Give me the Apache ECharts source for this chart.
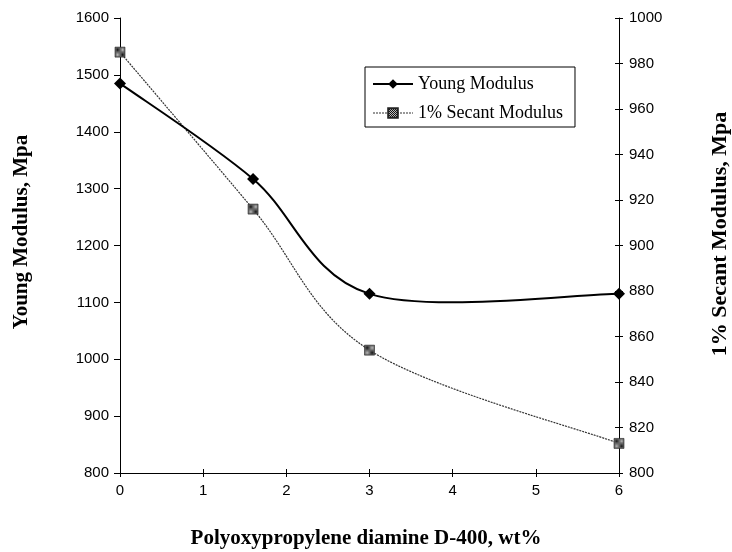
<!DOCTYPE html>
<html>
<head>
<meta charset="utf-8">
<script src="https://cdn.jsdelivr.net/npm/echarts@6/dist/echarts.min.js"></script>
<style>
  html, body { margin: 0; padding: 0; background: #fff; }
  #chart { width: 732px; height: 552px; }
</style>
</head>
<body>
<div id="chart"></div>
<script>
// D-400 content, wt%
const loadings = [0, 1.6, 3, 6];
// Young modulus, MPa (left axis)
const youngModulus = [1485, 1317, 1115, 1115];
// 1% secant modulus, MPa (right axis)
const secantModulus = [985, 916, 854, 813];

const seriesNames = ['Young Modulus', '1% Secant Modulus'];
const axisTitles = {
  x: 'Polyoxypropylene diamine D-400, wt%',
  left: 'Young Modulus, Mpa',
  right: '1% Secant Modulus, Mpa'
};

// checkered fill for the secant markers
const checker = document.createElement('canvas');
checker.width = 2; checker.height = 2;
const cctx = checker.getContext('2d');
cctx.fillStyle = '#bbbbbb'; cctx.fillRect(0, 0, 2, 2);
cctx.fillStyle = '#111111'; cctx.fillRect(0, 0, 1, 1); cctx.fillRect(1, 1, 1, 1);

const pairs = (xs, ys) => xs.map((x, i) => [x, ys[i]]);
const youngPts = pairs(loadings, youngModulus);
const secantPts = pairs(loadings, secantModulus);

// Smoothed segment i -> i+1 as a cubic Bezier (tangents from neighbouring points)
function smoothSegment(points, stroke, width, dash) {
  return function (params, api) {
    const i = params.dataIndex;
    const n = points.length;
    if (i >= n - 1) return null;
    const p = points.map(pt => api.coord(pt));
    const p0 = p[Math.max(i - 1, 0)], p1 = p[i], p2 = p[i + 1], p3 = p[Math.min(i + 2, n - 1)];
    return {
      type: 'bezierCurve',
      shape: {
        x1: p1[0], y1: p1[1], x2: p2[0], y2: p2[1],
        cpx1: p1[0] + (p2[0] - p0[0]) / 6, cpy1: p1[1] + (p2[1] - p0[1]) / 6,
        cpx2: p2[0] - (p3[0] - p1[0]) / 6, cpy2: p2[1] - (p3[1] - p1[1]) / 6
      },
      style: { stroke: stroke, lineWidth: width, lineDash: dash, fill: null }
    };
  };
}

const tickFont = { fontFamily: 'Liberation Sans, Arial, sans-serif', fontSize: 15, color: '#000' };
const titleStyle = {
  fontFamily: 'Liberation Serif, Times New Roman, serif', fontSize: 21, fontWeight: 'bold',
  fill: '#000', align: 'center', verticalAlign: 'middle'
};
const plain = v => String(v);
const gridBox = { left: 120, right: 113, top: 18, bottom: 79, containLabel: false, outerBoundsMode: 'none' };

const chart = echarts.init(document.getElementById('chart'), null, { renderer: 'canvas' });
chart.setOption({
  backgroundColor: '#fff',
  animation: false,
  grid: [Object.assign({}, gridBox), Object.assign({}, gridBox)],
  graphic: [
    { type: 'text', x: 366, y: 539, style: Object.assign({ text: axisTitles.x }, titleStyle) },
    { type: 'text', x: 22, y: 232, rotation: Math.PI / 2, style: Object.assign({ text: axisTitles.left }, titleStyle) },
    { type: 'text', x: 720, y: 234, rotation: Math.PI / 2, style: Object.assign({ text: axisTitles.right }, titleStyle, { fontSize: 22 }) }
  ],
  legend: {
    orient: 'vertical',
    left: 365,
    top: 67,
    padding: [8, 12, 5, 7],
    itemGap: 11,
    itemWidth: 40,
    itemHeight: 12,
    backgroundColor: '#fff',
    borderColor: '#000',
    borderWidth: 1,
    borderRadius: 0,
    textStyle: { fontFamily: 'Liberation Serif, Times New Roman, serif', fontSize: 18, color: '#000' },
    data: [
      { name: seriesNames[0], lineStyle: { opacity: 1, color: '#000', width: 2, type: 'solid' } },
      { name: seriesNames[1], lineStyle: { opacity: 1, color: '#333', width: 1.2, type: [2, 1] } }
    ]
  },
  xAxis: [
    {
      type: 'value', min: 0, max: 6, interval: 1, gridIndex: 0,
      axisLine: { onZero: false, lineStyle: { color: '#000', width: 1 } },
      axisTick: { length: 4, lineStyle: { color: '#000' } },
      axisLabel: Object.assign({ margin: 10, formatter: plain }, tickFont),
      splitLine: { show: false }
    },
    {
      type: 'value', min: 0, max: 6, interval: 1, gridIndex: 1, position: 'bottom',
      axisLine: { show: false, onZero: false },
      axisTick: { inside: true, length: 4, lineStyle: { color: '#000' } },
      axisLabel: { show: false },
      splitLine: { show: false }
    }
  ],
  yAxis: [
    {
      type: 'value', min: 800, max: 1600, interval: 100, position: 'left', gridIndex: 0,
      axisLine: { show: true, onZero: false, lineStyle: { color: '#000', width: 1 } },
      axisTick: { show: true, length: 6, lineStyle: { color: '#000' } },
      axisLabel: Object.assign({ margin: 11, formatter: plain }, tickFont),
      splitLine: { show: false }
    },
    {
      type: 'value', min: 800, max: 1000, interval: 20, position: 'right', gridIndex: 0,
      axisLine: { show: true, onZero: false, lineStyle: { color: '#000', width: 1 } },
      axisTick: { show: true, length: 4, lineStyle: { color: '#000' } },
      axisLabel: Object.assign({ margin: 10, formatter: plain }, tickFont),
      splitLine: { show: false }
    },
    {
      type: 'value', min: 800, max: 1000, interval: 20, position: 'right', gridIndex: 1,
      axisLine: { show: false, onZero: false },
      axisTick: { show: true, inside: true, length: 4, lineStyle: { color: '#000' } },
      axisLabel: { show: false },
      splitLine: { show: false }
    },
    {
      type: 'value', min: 800, max: 1600, interval: 100, position: 'left', gridIndex: 1,
      show: false
    }
  ],
  series: [
    {
      name: seriesNames[0],
      type: 'line',
      xAxisIndex: 0, yAxisIndex: 0,
      data: youngPts,
      symbol: 'diamond', symbolSize: 12,
      lineStyle: { opacity: 0 },
      itemStyle: { color: '#000' },
      z: 5
    },
    {
      name: seriesNames[1],
      type: 'line',
      xAxisIndex: 0, yAxisIndex: 1,
      data: secantPts,
      symbol: 'rect', symbolSize: 10,
      lineStyle: { opacity: 0 },
      itemStyle: { color: { image: checker, repeat: 'repeat' }, borderColor: '#222', borderWidth: 0.6, opacity: 1 },
      z: 4
    },
    {
      name: seriesNames[0],
      type: 'custom',
      xAxisIndex: 0, yAxisIndex: 0,
      data: youngPts,
      renderItem: smoothSegment(youngPts, '#000', 2, null),
      z: 3
    },
    {
      name: seriesNames[1],
      type: 'custom',
      xAxisIndex: 0, yAxisIndex: 1,
      data: secantPts,
      renderItem: smoothSegment(secantPts, '#333', 1.2, [2, 1]),
      z: 2
    }
  ]
});
</script>
</body>
</html>
